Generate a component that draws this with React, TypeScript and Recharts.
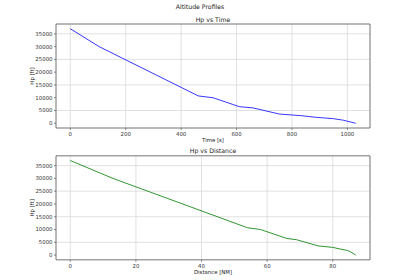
import { LineChart, Line, XAxis, YAxis, CartesianGrid, ReferenceArea } from 'recharts'

// descent profile samples (same altitude points, vs time and vs distance)
const timeS = [0, 104, 462, 515, 610, 660, 755, 830, 890, 950, 985, 1030]
const distanceNm = [0, 13, 54, 58, 66, 69, 75.5, 80, 82.5, 84.5, 85.5, 87]
const hpFt = [37000, 30000, 10700, 10000, 6500, 6000, 3600, 3000, 2300, 1800, 1200, 0]

const timeTicks = [0, 200, 400, 600, 800, 1000]
const distanceTicks = [0, 20, 40, 60, 80]
const hpTicks = [0, 5000, 10000, 15000, 20000, 25000, 30000, 35000]

const rows = hpFt.map((hp, i) => ({ time: timeS[i], distance: distanceNm[i], hp }))

const FONT = '"DejaVu Sans", sans-serif'
const tickStyle = { fill: '#333', fontSize: 5.4, fontFamily: FONT }
const labelStyle = { fill: '#222', fontSize: 5.4, fontFamily: FONT }

const hpDomain: [number, number] = [-1850, 38850]

interface PanelProps {
  top: number
  marginTop: number
  xKey: 'time' | 'distance'
  xDomain: [number, number]
  xTicks: number[]
  xLabel: string
  color: string
}

function Panel({ top, marginTop, xKey, xDomain, xTicks, xLabel, color }: PanelProps) {
  return (
    <div style={{ position: 'absolute', left: 0, top }}>
      <LineChart
        width={400}
        height={marginTop + 104 + 15 + 2}
        data={rows}
        margin={{ top: marginTop, right: 30, bottom: 2, left: 0 }}
      >
        <CartesianGrid stroke="#d9d9d9" strokeWidth={0.8} />
        <XAxis
          dataKey={xKey}
          type="number"
          domain={xDomain}
          ticks={xTicks}
          height={15}
          axisLine={false}
          tickSize={2}
          tickMargin={2}
          tickLine={{ stroke: '#444', strokeWidth: 0.6 }}
          tick={tickStyle}
          label={{ value: xLabel, position: 'insideBottom', offset: 1, style: labelStyle }}
        />
        <YAxis
          dataKey="hp"
          type="number"
          domain={hpDomain}
          ticks={hpTicks}
          width={56}
          axisLine={false}
          tickSize={2}
          tickMargin={1.5}
          tickLine={{ stroke: '#444', strokeWidth: 0.6 }}
          tick={tickStyle}
          label={{
            value: 'Hp [ft]',
            angle: -90,
            position: 'insideLeft',
            offset: 31.7,
            style: { ...labelStyle, textAnchor: 'middle' },
          }}
        />
        <ReferenceArea
          x1={xDomain[0]}
          x2={xDomain[1]}
          y1={hpDomain[0]}
          y2={hpDomain[1]}
          fill="none"
          stroke="#666"
          strokeWidth={0.8}
        />
        <Line
          type="linear"
          dataKey="hp"
          stroke={color}
          strokeWidth={0.9}
          dot={false}
          isAnimationActive={false}
        />
      </LineChart>
    </div>
  )
}

const titleCss = (top: number, left: number, width: number): React.CSSProperties => ({
  position: 'absolute',
  top,
  left,
  width,
  textAlign: 'center',
  fontFamily: FONT,
  fontSize: 6.2,
  lineHeight: '8px',
  color: '#222',
  whiteSpace: 'nowrap',
})

export default function App() {
  return (
    <div style={{ position: 'absolute', left: 0, top: 0, width: 400, height: 280, background: '#fff' }}>
      <div style={titleCss(3.3, 0, 400)}>Altitude Profiles</div>
      <div style={titleCss(15.7, 56, 314)}>Hp vs Time</div>
      <Panel
        top={0}
        marginTop={24}
        xKey="time"
        xDomain={[-51.5, 1081.5]}
        xTicks={timeTicks}
        xLabel="Time [s]"
        color="#2020ff"
      />
      <div style={titleCss(147, 56, 314)}>Hp vs Distance</div>
      <Panel
        top={140}
        marginTop={15.8}
        xKey="distance"
        xDomain={[-4.35, 91.35]}
        xTicks={distanceTicks}
        xLabel="Distance [NM]"
        color="#1a8a1a"
      />
    </div>
  )
}
